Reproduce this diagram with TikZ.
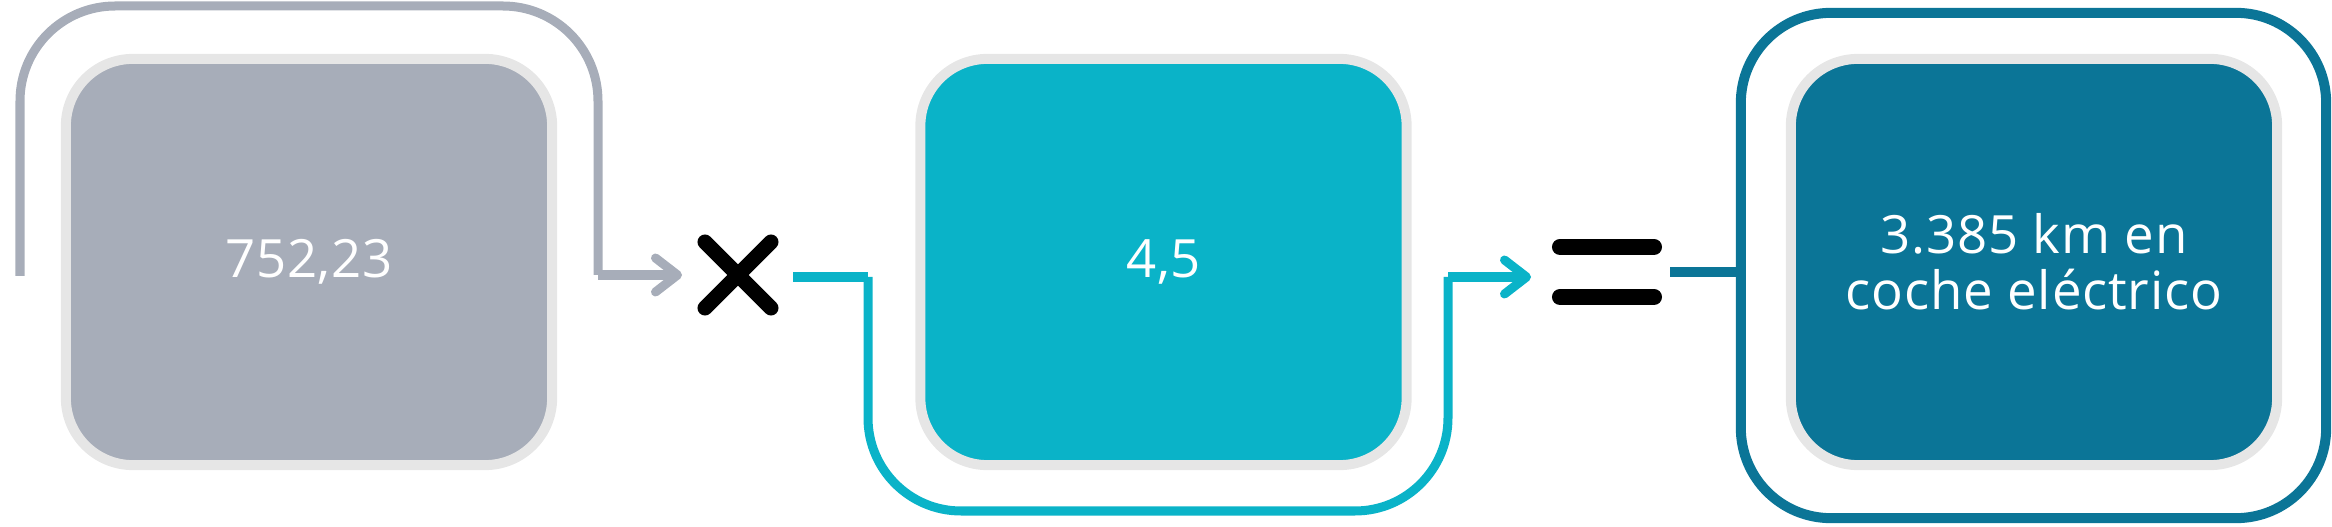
\documentclass[tikz,border=0pt]{standalone}
\usepackage{fontspec}
\setmainfont{Open Sans}[LetterSpace=1.5]
\usetikzlibrary{arrows.meta}

\definecolor{graybox}{HTML}{A7ADB9}
\definecolor{tealbox}{HTML}{0AB3C8}
\definecolor{darkbox}{HTML}{0B7597}
\definecolor{boxrim}{HTML}{E6E6E6}

\tikzset{
  valuebox/.style={rectangle, draw=boxrim, line width=0.1cm, rounded corners=0.67cm,
    minimum width=4.86cm, minimum height=4.06cm, text=white, align=center,
    font=\fontsize{15}{15.9}\selectfont},
  flow/.style={line width=0.09cm},
  chevron/.style={-{Straight Barb[length=0.22cm,width=0.34cm,round]}},
  opsign/.style={rectangle, inner sep=0pt, outer sep=0pt},
  opstroke/.style={line width=0.15cm, line cap=round},
}

\begin{document}
\begin{tikzpicture}[x=0.01cm,y=0.01cm]
    \useasboundingbox (0,0) rectangle (2332,527);

    % first factor
    \node[valuebox, fill=graybox] (energy) at (309,265) {752,23};

    % loop of the first factor
    \coordinate (grayin) at (20,251);
    \coordinate (grayturn) at (598,252);
    \coordinate (graytip) at (682,252);
    \draw[flow, graybox, rounded corners=0.95cm] (grayin) -- (20,521) -- (598,521) -- (grayturn);
    \draw[flow, graybox, chevron] (grayturn) -- (graytip);

    % times sign
    \node[opsign, minimum size=0.66cm] (times) at (738,252) {};
    \draw[opstroke] (times.north west) -- (times.south east);
    \draw[opstroke] (times.south west) -- (times.north east);

    % second factor
    \node[valuebox, fill=tealbox] (factor) at (1163.5,265) {4,5};

    % loop of the second factor
    \coordinate (tealin) at (793,250);
    \coordinate (tealdown) at (868,250);
    \coordinate (tealup) at (1448,250);
    \coordinate (tealtip) at (1531,250);
    \draw[flow, tealbox] (tealin) -- (tealdown);
    \draw[flow, tealbox, rounded corners=0.93cm] (tealdown) -- (868,16) -- (1448,16) -- (tealup);
    \draw[flow, tealbox, chevron] (tealup) -- (tealtip);

    % equals sign
    \node[opsign, minimum width=0.94cm, minimum height=0.5cm] (equals) at (1607,255) {};
    \draw[opstroke, line width=0.16cm] (equals.north west) -- (equals.north east);
    \draw[opstroke, line width=0.16cm] (equals.south west) -- (equals.south east);

    % frame round the result
    \node[draw=darkbox, line width=0.1cm, rounded corners=0.9cm,
      minimum width=5.85cm, minimum height=5.05cm] (frame) at (2033.5,261.5) {};
    \coordinate (darkin) at (1670,255);
    \draw[flow, darkbox] (darkin) -- (darkin -| frame.west);

    % result
    \node[valuebox, fill=darkbox] (distance) at (2034,265) {3.385 km en\\coche eléctrico};

\end{tikzpicture}
\end{document}
